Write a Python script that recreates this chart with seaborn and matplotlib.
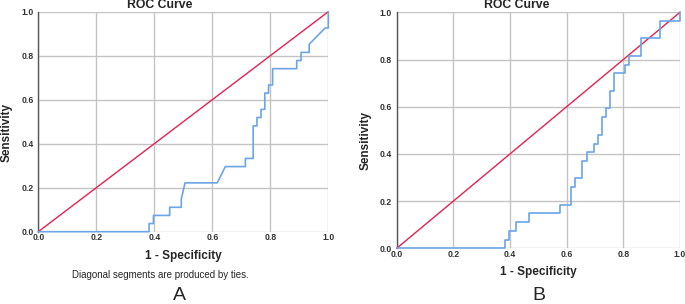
import numpy as np
import pandas as pd
import matplotlib
matplotlib.use("Agg")
import matplotlib.pyplot as plt
import seaborn as sns

# -----------------------------------------------------------------------------
# DATA (27 positive cases -> steps of 1/27)
# -----------------------------------------------------------------------------

fpr_a = [0.0, 0.382, 0.382, 0.397, 0.397, 0.453, 0.453, 0.493, 0.493, 0.506,
         0.617, 0.645, 0.714, 0.714, 0.741, 0.741, 0.754, 0.754, 0.768, 0.768,
         0.781, 0.781, 0.794, 0.794, 0.808, 0.808, 0.891, 0.891, 0.906, 0.906,
         0.934, 0.934, 0.989, 1.0, 1.0]
tpr_a = [0.0, 0.0, 0.037, 0.037, 0.074, 0.074, 0.111, 0.111, 0.148, 0.222,
         0.222, 0.296, 0.296, 0.333, 0.333, 0.481, 0.481, 0.519, 0.519, 0.556,
         0.556, 0.630, 0.630, 0.667, 0.667, 0.741, 0.741, 0.778, 0.778, 0.815,
         0.815, 0.852, 0.926, 0.926, 1.0]

fpr_b = [0.0, 0.382, 0.382, 0.396, 0.396, 0.422, 0.422, 0.466, 0.466, 0.575,
         0.575, 0.615, 0.615, 0.629, 0.629, 0.655, 0.655, 0.671, 0.671, 0.696,
         0.696, 0.710, 0.710, 0.726, 0.726, 0.738, 0.738, 0.752, 0.752, 0.766,
         0.766, 0.806, 0.806, 0.820, 0.820, 0.862, 0.862, 0.929, 0.929, 1.0, 1.0]
tpr_b = [0.0, 0.0, 0.037, 0.037, 0.074, 0.074, 0.111, 0.111, 0.148, 0.148,
         0.185, 0.185, 0.259, 0.259, 0.296, 0.296, 0.370, 0.370, 0.407, 0.407,
         0.444, 0.444, 0.481, 0.481, 0.556, 0.556, 0.593, 0.593, 0.667, 0.667,
         0.741, 0.741, 0.778, 0.778, 0.815, 0.815, 0.889, 0.889, 0.963, 0.963, 1.0]

ref_line = [0.0, 1.0]
ticks = [0.0, 0.2, 0.4, 0.6, 0.8, 1.0]
tick_labels = ["0.0", "0.2", "0.4", "0.6", "0.8", "1.0"]

# -----------------------------------------------------------------------------
# STYLE
# -----------------------------------------------------------------------------

sns.set_style("white")
plt.rcParams["font.family"] = ["Liberation Sans", "DejaVu Sans"]

CURVE = "#6aa5e8"
DIAG = "#e3224f"
GRID = "#c4c4c4"

fig = plt.figure(figsize=(6.85, 3.04), dpi=100)
W, H = 685, 304


def px_axes(x0, x1, ytop, ybot):
    return fig.add_axes([x0 / W, 1 - ybot / H, (x1 - x0) / W, (ybot - ytop) / H])


ax_a = px_axes(38.3, 328.3, 11.7, 231.7)
ax_b = px_axes(396.7, 680.0, 12.3, 248.3)

for ax, fx, ty in [(ax_a, fpr_a, tpr_a), (ax_b, fpr_b, tpr_b)]:
    ax.set_xlim(0, 1)
    ax.set_ylim(0, 1)
    ax.set_xticks(ticks)
    ax.set_yticks(ticks)
    ax.set_xticklabels(tick_labels, fontsize=6.2, fontweight="bold", color="#333333")
    ax.set_yticklabels(tick_labels, fontsize=6.2, fontweight="bold", color="#333333")
    ax.tick_params(axis="x", length=0, pad=1.0)
    ax.tick_params(axis="y", length=0, pad=3.5)
    ax.grid(True, color=GRID, linewidth=1.0)
    ax.set_axisbelow(True)
    for s in ["top", "right", "bottom"]:
        ax.spines[s].set_visible(False)
    ax.spines["left"].set_color("#555555")
    ax.spines["left"].set_linewidth(1.0)
    # reference diagonal
    sns.lineplot(x=ref_line, y=ref_line, ax=ax, color=DIAG, linewidth=1.0,
                 sort=False, estimator=None, clip_on=False, zorder=3)
    # ROC curve
    sns.lineplot(x=fx, y=ty, ax=ax, color=CURVE, linewidth=1.2,
                 sort=False, estimator=None, clip_on=False, zorder=4)
    ax.set_xlabel("")
    ax.set_ylabel("")

# -----------------------------------------------------------------------------
# TEXT
# -----------------------------------------------------------------------------

def ftext(x, y, s, **kw):
    fig.text(x / W, 1 - y / H, s, ha="center", va="center", **kw)


ftext(160, 5, "ROC Curve", fontsize=8.8, fontweight="bold")
ftext(517, 5, "ROC Curve", fontsize=8.8, fontweight="bold")
ftext(7, 133, "Sensitivity", fontsize=8.5, fontweight="bold", rotation=90)
ftext(366, 140, "Sensitivity", fontsize=8.5, fontweight="bold", rotation=90)
ftext(183, 256, "1 - Specificity", fontsize=8.5, fontweight="bold")
ftext(538, 272.5, "1 - Specificity", fontsize=8.5, fontweight="bold")
ftext(160, 274.5, "Diagonal segments are produced by ties.", fontsize=7)
ftext(179, 295.5, "A", fontsize=14)
ftext(539, 296, "B", fontsize=14)

plt.savefig("out.png", dpi=100)
plt.close()
